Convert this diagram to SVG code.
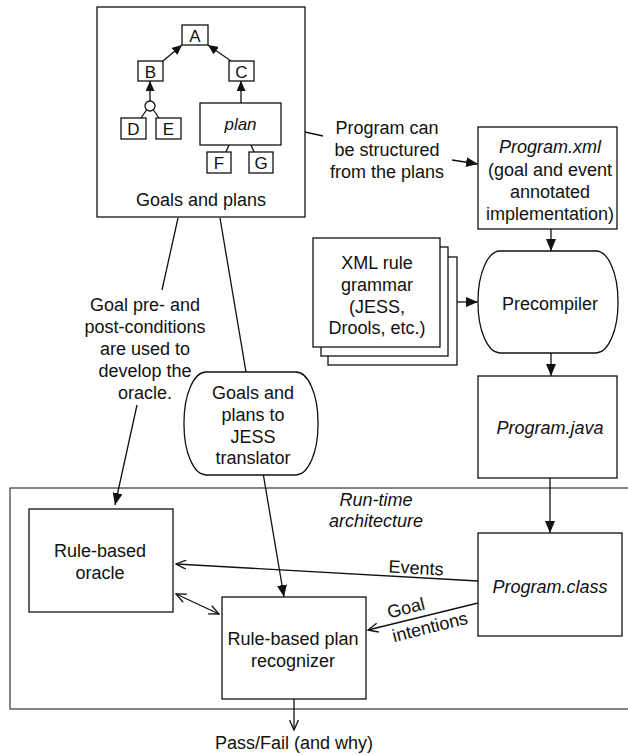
<svg xmlns="http://www.w3.org/2000/svg" width="628" height="755" viewBox="0 0 628 755">
<style>
text{font-family:"Liberation Sans",Arial,Helvetica,sans-serif;font-size:18px;fill:#111;text-anchor:middle}
.sm{font-size:17px}
.it{font-style:italic}
.box{fill:#fff;stroke:#111;stroke-width:1.3}
.ln{fill:none;stroke:#111;stroke-width:1.3}
.fa{marker-end:url(#fill)}
.sa{marker-end:url(#sfill)}
.oa{marker-end:url(#open)}
</style>
<defs>
<marker id="fill" viewBox="0 0 12 10" refX="12" refY="5" markerWidth="12" markerHeight="10" markerUnits="userSpaceOnUse" orient="auto"><path d="M0,0 L12,5 L0,10 z" fill="#111"/></marker>
<marker id="sfill" viewBox="0 0 10 9" refX="10" refY="4.5" markerWidth="10" markerHeight="9" markerUnits="userSpaceOnUse" orient="auto"><path d="M0,0 L10,4.5 L0,9 z" fill="#111"/></marker>
<marker id="open" viewBox="0 0 12 10" refX="11" refY="5" markerWidth="12" markerHeight="10" markerUnits="userSpaceOnUse" orient="auto-start-reverse"><path d="M1,0.5 L11,5 L1,9.5" fill="none" stroke="#111" stroke-width="1.3"/></marker>
</defs>
<rect width="628" height="755" fill="#fff"/>

<g id="runtime">
<rect x="10" y="488" width="630" height="221" fill="none" stroke="#444" stroke-width="1.3"/>
<text class="it" x="376" y="506" font-size="16.5">Run-time</text>
<text class="it" x="376" y="527" font-size="16.5">architecture</text>
</g>

<g id="connectors">
<path class="ln" d="M178,218 L162,290"/>
<path class="ln fa" d="M137,405 L115,505"/>
<path class="ln fa" d="M220,218 L284,597"/>
<path class="ln" d="M305,132 L323,136"/>
<path class="ln fa" d="M452,160 L478,164"/>
<path class="ln fa" d="M551,229 L551,251"/>
<path class="ln fa" d="M457,302 L478,302"/>
<path class="ln fa" d="M551,353 L551,376"/>
<path class="ln fa" d="M550,478 L550,533"/>
<path class="ln oa" d="M478,581 L176,564"/>
<path class="ln oa" d="M478,603 L368,630"/>
<path class="ln oa" d="M176,594 L219,614" style="marker-start:url(#open)"/>
<path class="ln oa" d="M294,699 L294,730"/>
<text x="416" y="574" transform="rotate(3.2 416 568)">Events</text>
<text x="406" y="614" transform="rotate(-14 406 608)">Goal</text>
<text x="430" y="633" transform="rotate(-14 430 627)">intentions</text>
<text x="145" y="311">Goal pre- and</text>
<text x="145" y="333">post-conditions</text>
<text x="145" y="355">are used to</text>
<text x="145" y="377">develop the</text>
<text x="145" y="399">oracle.</text>
<text x="387" y="134">Program can</text>
<text x="387" y="156">be structured</text>
<text x="387" y="178">from the plans</text>
<text x="294" y="749">Pass/Fail (and why)</text>
</g>

<g id="goals">
<rect class="box" x="97" y="7" width="208" height="210"/>
<g id="goal-tree">
<path class="ln sa" d="M163,61 L182,45"/>
<path class="ln sa" d="M231,61 L208,45"/>
<path class="ln sa" d="M241,103 L241,81"/>
<path class="ln sa" d="M150,101 L150,81"/>
<path class="ln" d="M146.5,110 L141,118 M153.5,110 L159,118 M229,145 L226,152 M251,145 L254,152"/>
<circle cx="150" cy="106" r="5" fill="#fff" stroke="#111" stroke-width="1.3"/>
<rect class="box" x="182" y="25" width="26" height="20"/><text class="sm" x="195" y="41.5">A</text>
<rect class="box" x="138" y="61" width="25" height="20"/><text class="sm" x="150.5" y="77.5">B</text>
<rect class="box" x="229" y="61" width="25" height="20"/><text class="sm" x="241.5" y="77.5">C</text>
<rect class="box" x="121" y="118" width="25" height="21"/><text class="sm" x="133.5" y="135">D</text>
<rect class="box" x="156" y="118" width="25" height="21"/><text class="sm" x="168.5" y="135">E</text>
<rect class="box" x="200" y="103" width="81" height="42"/><text class="sm it" x="240.5" y="130">plan</text>
<rect class="box" x="207" y="152" width="24" height="21"/><text class="sm" x="219" y="169">F</text>
<rect class="box" x="249" y="152" width="24" height="21"/><text class="sm" x="261" y="169">G</text>
</g>
<text x="201" y="206">Goals and plans</text>
</g>

<g id="program-xml">
<rect class="box" x="478" y="127" width="139" height="102"/>
<text class="it" x="550" y="153">Program.xml</text>
<text x="550" y="176">(goal and event</text>
<text x="550" y="198">annotated</text>
<text x="550" y="220">implementation)</text>
</g>

<g id="xml-grammar">
<rect class="box" x="328" y="257" width="129" height="108"/>
<rect class="box" x="321" y="247" width="127" height="109"/>
<rect class="box" x="313" y="238" width="127" height="109"/>
<text x="377" y="269">XML rule</text>
<text x="377" y="291">grammar</text>
<text x="377" y="313">(JESS,</text>
<text x="377" y="334">Drools, etc.)</text>
</g>

<g id="precompiler">
<rect class="box" x="478" y="251" width="140" height="102" rx="22" ry="50"/>
<text x="550" y="310">Precompiler</text>
</g>

<g id="program-java">
<rect class="box" x="478" y="376" width="139" height="102"/>
<text class="it" x="550" y="434">Program.java</text>
</g>

<g id="translator">
<rect class="box" x="184" y="372" width="134" height="103" rx="22" ry="50"/>
<text x="253" y="399">Goals and</text>
<text x="253" y="421">plans to</text>
<text x="253" y="443">JESS</text>
<text x="253" y="464">translator</text>
</g>

<g id="oracle">
<rect class="box" x="29" y="509" width="144" height="103"/>
<text x="100" y="557">Rule-based</text>
<text x="100" y="579">oracle</text>
</g>

<g id="recognizer">
<rect class="box" x="222" y="597" width="144" height="102"/>
<text x="293" y="645">Rule-based plan</text>
<text x="293" y="667">recognizer</text>
</g>

<g id="program-class">
<rect class="box" x="478" y="533" width="144" height="103"/>
<text class="it" x="550" y="593">Program.class</text>
</g>
</svg>
